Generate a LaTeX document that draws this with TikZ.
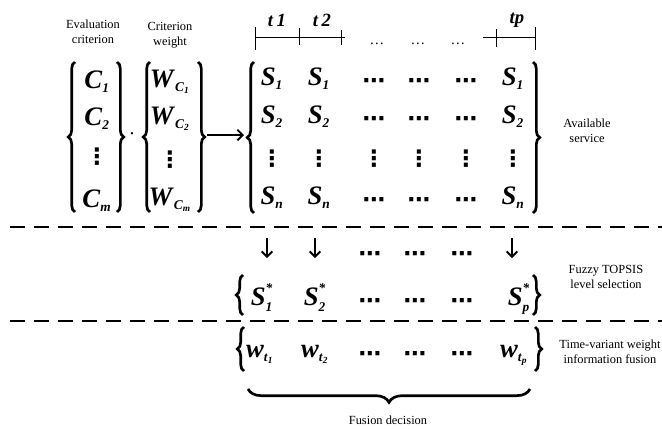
\documentclass[tikz,border=0pt]{standalone}
\usepackage{amsmath}
\usepackage{fontspec}
\setmainfont{Liberation Serif}
\newfontfamily\symfont{DejaVu Sans}
\usetikzlibrary{decorations.pathreplacing,arrows.meta}
% compact sub- and superscripts for the large entries
\DeclareMathSizes{20}{20}{10}{7}
% bold italic symbols
\newcommand\bi[1]{\textbf{\textit{#1}}}
\newcommand\hdts{{\symfont\bfseries ⋯}}
\newcommand\vdts{{\symfont\bfseries ⋮}}
\newcommand\sel[1]{$\bi{S}^{\bi{*}}_{\bi{#1}}$}
\tikzset{
  ent/.style={font=\fontsize{20}{24}\selectfont, inner sep=0pt, anchor=base},
  dts/.style={font=\fontsize{17}{20}\selectfont, inner sep=0pt, anchor=center},
  lab/.style={font=\fontsize{9.3}{11}\selectfont, align=center, inner sep=0pt},
  tlab/.style={font=\fontsize{14}{16}\selectfont, inner sep=0pt},
  brc/.style={line width=2pt, decorate, decoration={brace, amplitude=5pt}},
  bigbrc/.style={line width=2pt, decorate, decoration={brace, amplitude=10pt}},
  sep/.style={line width=1.1pt, dash pattern=on 11.25pt off 6.75pt},
  axis/.style={line width=0.6pt},
  arr/.style={line width=1.4pt, -{Straight Barb[length=4pt, width=8pt]}},
}
\begin{document}
\begin{tikzpicture}[x=0.75pt, y=-0.75pt]
\useasboundingbox (0,0) rectangle (662,429);

% column headings
\node[lab] (hEval) at (93,32) {Evaluation\\criterion};
\node[lab] (hWeight) at (170,35) {Criterion\\weight};

% criteria vector
\node[ent] (c1) at (97,88) {$\bi{C}_{\bi{1}}$};
\node[ent] (c2) at (97,125) {$\bi{C}_{\bi{2}}$};
\node[dts] (c3) at (97,157) {\vdts};
\node[ent] (cm) at (97,207) {$\bi{C}_{\bi{m}}$};
\draw[brc] (75,212) -- (75,62);
\draw[brc] (117,62) -- (117,212);
\node[font=\fontsize{16}{16}\selectfont\bfseries, inner sep=0pt] (prod) at (132,134) {$\cdot$};

% weight vector
\node[ent] (w1) at (170,87) {$\bi{W}_{\bi{C}_{\bi{1}}}$};
\node[ent] (w2) at (170,124) {$\bi{W}_{\bi{C}_{\bi{2}}}$};
\node[dts] (w3) at (170,160) {\vdts};
\node[ent] (wm) at (170,205) {$\bi{W}_{\bi{C}_{\bi{m}}}$};
\draw[brc] (150,212) -- (150,62);
\draw[brc] (198,62) -- (198,212);

% arrow into the service matrix
\coordinate (wOut) at (207,135);
\coordinate (sIn) at (244,135);
\draw[arr] (wOut) -- (sIn);

% time axis
\draw[axis] (255,37) -- (345,37);
\draw[axis] (255,27) -- (255,50);
\draw[axis] (299,28) -- (299,45);
\draw[axis] (341,30) -- (341,45);
\draw[axis] (483,37) -- (535,37);
\draw[axis] (496,29) -- (496,47);
\draw[axis] (535,27) -- (535,50);
\node[tlab] (t1) at (277,20) {\bi{t}\,\bi{1}};
\node[tlab] (t2) at (322,20) {\bi{t}\,\bi{2}};
\node[tlab] (tp) at (517,20) {\bi{tp}};
\node[font=\fontsize{11}{11}\selectfont, inner sep=0pt, anchor=base] (ax1) at (377,44) {…};
\node[font=\fontsize{11}{11}\selectfont, inner sep=0pt, anchor=base] (ax2) at (418,44) {…};
\node[font=\fontsize{11}{11}\selectfont, inner sep=0pt, anchor=base] (ax3) at (458,44) {…};

% available service matrix
\foreach \x/\n in {272/a, 319/b, 513/f} {
  \node[ent] (s1\n) at (\x,85) {$\bi{S}_{\bi{1}}$};
  \node[ent] (s2\n) at (\x,123) {$\bi{S}_{\bi{2}}$};
  \node[ent] (s4\n) at (\x,204) {$\bi{S}_{\bi{n}}$};
}
\foreach \x/\n in {374/c, 419/d, 466/e} {
  \node[dts] (s1\n) at (\x,83) {\hdts};
  \node[dts] (s2\n) at (\x,121) {\hdts};
  \node[dts] (s4\n) at (\x,202) {\hdts};
}
\foreach \x/\n in {272/a, 319/b, 374/c, 419/d, 466/e, 513/f} {
  \node[dts] (s3\n) at (\x,159) {\vdts};
}
\draw[brc] (254,213) -- (254,62);
\draw[brc] (533,62) -- (533,213);
\node[lab] (lAvail) at (587,131) {Available\\service};

% separators
\draw[sep] (10,227) -- (662,227);
\draw[sep] (10,321) -- (662,321);

% selection arrows
\coordinate (d1s) at (267,238);
\coordinate (d1e) at (267,258);
\coordinate (d2s) at (315,238);
\coordinate (d2e) at (315,258);
\coordinate (d3s) at (512,238);
\coordinate (d3e) at (512,258);
\draw[arr] (d1s) -- (d1e);
\draw[arr] (d2s) -- (d2e);
\draw[arr] (d3s) -- (d3e);
\node[dts] (dd1) at (370,256) {\hdts};
\node[dts] (dd2) at (415,256) {\hdts};
\node[dts] (dd3) at (462,256) {\hdts};

% fuzzy TOPSIS selection row
\node[ent] (p1) at (262,305) {\sel{1}};
\node[ent] (p2) at (315,305) {\sel{2}};
\node[dts] (p3) at (370,303) {\hdts};
\node[dts] (p4) at (415,303) {\hdts};
\node[dts] (p5) at (462,303) {\hdts};
\node[ent] (pp) at (519,305) {\sel{p}};
\draw[brc] (243,315) -- (243,275);
\draw[brc] (533,275) -- (533,315);
\node[lab] (lFuzzy) at (606,277) {Fuzzy TOPSIS\\level selection};

% time-variant weight row
\node[ent] (f1) at (260,357) {$\bi{w}_{\bi{t}_{\bi{1}}}$};
\node[ent] (f2) at (315,357) {$\bi{w}_{\bi{t}_{\bi{2}}}$};
\node[dts] (f3) at (370,356) {\hdts};
\node[dts] (f4) at (415,356) {\hdts};
\node[dts] (f5) at (462,356) {\hdts};
\node[ent] (fp) at (514,357) {$\bi{w}_{\bi{t}_{\bi{p}}}$};
\draw[brc] (244,371) -- (244,327);
\draw[brc] (535,327) -- (535,371);
\node[lab] (lTime) at (610,352) {Time-variant weight\\information fusion};

% fusion decision
\draw[bigbrc] (530,389) -- (248,389);
\node[lab] (lFusion) at (388,420) {Fusion decision};
\end{tikzpicture}
\end{document}
